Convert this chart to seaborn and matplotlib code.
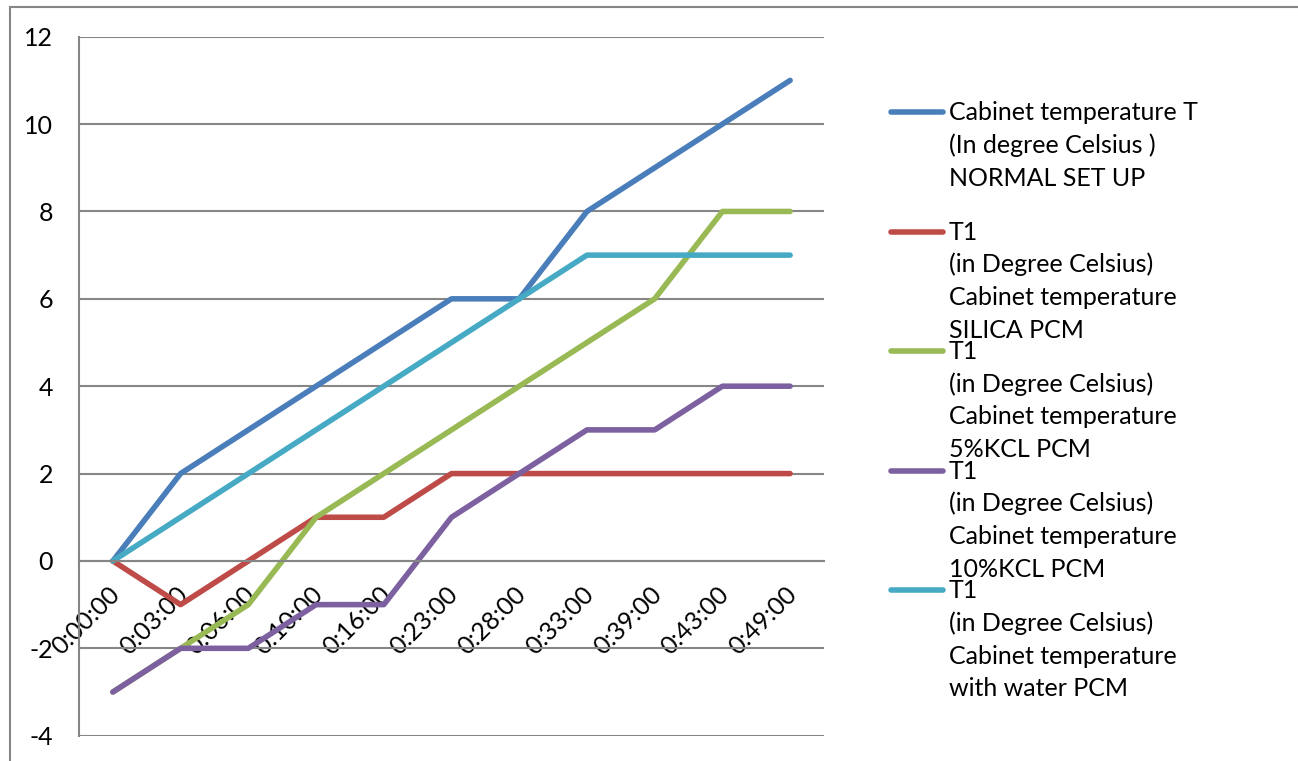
import matplotlib
matplotlib.use("Agg")
import numpy as np
import pandas as pd
import matplotlib.pyplot as plt
import seaborn as sns
from matplotlib.lines import Line2D
from matplotlib.patches import Rectangle
from matplotlib.transforms import ScaledTranslation

# Elapsed time (h:mm:ss) at each reading
times = ["0:00:00", "0:03:00", "0:06:00", "0:10:00", "0:16:00", "0:23:00",
         "0:28:00", "0:33:00", "0:39:00", "0:43:00", "0:49:00"]

# Cabinet temperatures in degree Celsius
normal_setup = [0, 2, 3, 4, 5, 6, 6, 8, 9, 10, 11]
silica_pcm = [0, -1, 0, 1, 1, 2, 2, 2, 2, 2, 2]
kcl5_pcm = [-3, -2, -1, 1, 2, 3, 4, 5, 6, 8, 8]
kcl10_pcm = [-3, -2, -2, -1, -1, 1, 2, 3, 3, 4, 4]
water_pcm = [0, 1, 2, 3, 4, 5, 6, 7, 7, 7, 7]

series_names = [
    "Cabinet temperature T\n(In degree Celsius )\nNORMAL SET UP",
    "T1\n(in Degree Celsius)\nCabinet temperature\nSILICA PCM",
    "T1\n(in Degree Celsius)\nCabinet temperature\n5%KCL PCM",
    "T1\n(in Degree Celsius)\nCabinet temperature\n10%KCL PCM",
    "T1\n(in Degree Celsius)\nCabinet temperature\nwith water PCM",
]
series_values = [normal_setup, silica_pcm, kcl5_pcm, kcl10_pcm, water_pcm]
colors = ["#4A7EBB", "#BE4B48", "#98B954", "#7D60A0", "#46AAC5"]

frames = []
for name, vals in zip(series_names, series_values):
    frames.append(pd.DataFrame({"idx": np.arange(len(times)),
                                "value": vals, "series": name}))
df = pd.concat(frames, ignore_index=True)

sns.set_theme(style="white")
plt.rcParams["font.family"] = ["Lato", "DejaVu Sans"]
FS = 18
GRAY = "#868686"
LW = 4.0

W, H = 1298, 761
fig = plt.figure(figsize=(W / 100, H / 100), dpi=100)
fig.patch.set_facecolor("white")
ax = fig.add_axes([79 / W, 1 - 735.7 / H, 745 / W, 699 / H])

sns.lineplot(data=df, x="idx", y="value", hue="series", hue_order=series_names,
             palette=colors, linewidth=LW, legend=False, estimator=None,
             sort=False, ax=ax, solid_capstyle="round", solid_joinstyle="round")

ax.set_xlim(-0.5, len(times) - 0.5)
ax.set_ylim(-4, 12)
ax.set_yticks(np.arange(-4, 13, 2))
ax.set_xlabel("")
ax.set_ylabel("")

# horizontal gridlines
ax.yaxis.grid(True, color=GRAY, linewidth=1.5)
ax.xaxis.grid(False)
ax.set_axisbelow(True)

for side in ["top", "right"]:
    ax.spines[side].set_visible(False)
ax.spines["left"].set_color(GRAY)
ax.spines["left"].set_linewidth(1.5)
ax.spines["bottom"].set_color(GRAY)
ax.spines["bottom"].set_linewidth(1.5)
ax.spines["bottom"].set_position(("data", 0))

ax.tick_params(axis="y", length=5.8, width=1.5, color=GRAY, direction="out",
               pad=13, labelsize=FS, labelcolor="black")
ax.set_yticklabels([f"{v:d}" for v in np.arange(-4, 13, 2)])

# category labels at centres, tick marks between categories
ax.set_xticks(np.arange(len(times)))
ax.set_xticklabels(times, rotation=45, ha="right", va="center",
                   rotation_mode="anchor", fontsize=FS, color="black")
ax.tick_params(axis="x", which="major", length=0, pad=21)
shift = ScaledTranslation(3 / 100, 0, fig.dpi_scale_trans)
for lab in ax.get_xticklabels():
    lab.set_transform(lab.get_transform() + shift)
ax.set_xticks(np.arange(-0.5, len(times), 1.0), minor=True)
ax.tick_params(axis="x", which="minor", length=5, width=1.5, color=GRAY,
               direction="out")

# chart-area frame
fig.add_artist(Rectangle((10 / W, -0.05), 1.2, (1 - 7 / H) + 0.05,
                         transform=fig.transFigure, fill=False,
                         edgecolor=GRAY, linewidth=1.5))

# legend on the right
first_y = 112
entry_step = 119.5
line_step = 32.6
for i, (name, col) in enumerate(zip(series_names, colors)):
    yh = first_y + entry_step * i
    fig.add_artist(Line2D([891 / W, 943 / W], [1 - yh / H, 1 - yh / H],
                          transform=fig.transFigure, color=col, linewidth=LW,
                          solid_capstyle="round"))
    for k, text_line in enumerate(name.split("\n")):
        fig.text(949 / W, 1 - (yh + 8.3 + line_step * k) / H, text_line,
                 ha="left", va="baseline", fontsize=FS, color="black")

fig.savefig("out.png", dpi=100, facecolor="white")
